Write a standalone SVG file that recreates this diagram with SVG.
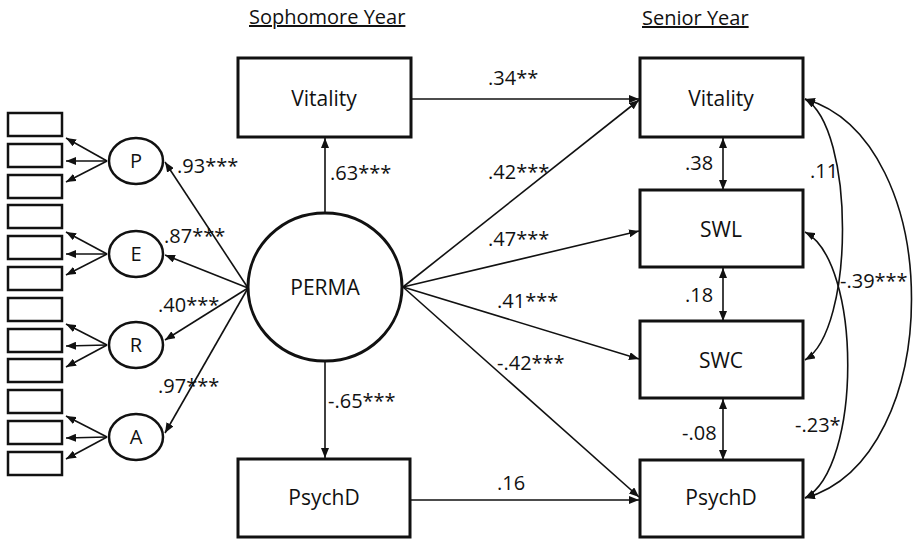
<svg xmlns="http://www.w3.org/2000/svg" width="915" height="542" viewBox="0 0 915 542">
<style>
text{font-family:"Open Sans","Liberation Sans",Arial,sans-serif;fill:#111;}
.hd{font-size:20px;text-decoration:underline;}
.nl{font-size:21px;text-anchor:middle;}
.lt{font-size:20px;text-anchor:middle;}
.lb{font-size:20px;}
.box{fill:#fff;stroke:#111;stroke-width:3;}
.ind{fill:#fff;stroke:#111;stroke-width:2.5;}
.lat{fill:#fff;stroke:#111;stroke-width:2.5;}
.c{fill:none;stroke:#111;stroke-width:1.6;}
.a{marker-end:url(#ah);}
.d{marker-start:url(#ahs);marker-end:url(#ah);}
</style>
<defs>
<marker id="ah" markerUnits="userSpaceOnUse" markerWidth="10" markerHeight="8" refX="10" refY="4" orient="auto"><path d="M0,0 L10,4 L0,8 z" fill="#111"/></marker>
<marker id="ahs" markerUnits="userSpaceOnUse" markerWidth="10" markerHeight="8" refX="10" refY="4" orient="auto-start-reverse"><path d="M0,0 L10,4 L0,8 z" fill="#111"/></marker>
</defs>
<rect width="915" height="542" fill="#fff"/>
<text class="hd" x="249" y="24">Sophomore Year</text>
<text class="hd" x="642" y="25">Senior Year</text>

<g id="connectors">
<line class="c a" x1="107" y1="161" x2="66" y2="138"/>
<line class="c a" x1="107" y1="161" x2="66" y2="161"/>
<line class="c a" x1="107" y1="161" x2="66" y2="182"/>
<line class="c a" x1="107" y1="254" x2="66" y2="232"/>
<line class="c a" x1="107" y1="254" x2="66" y2="254"/>
<line class="c a" x1="107" y1="254" x2="66" y2="275"/>
<line class="c a" x1="107" y1="345" x2="66" y2="324"/>
<line class="c a" x1="107" y1="345" x2="66" y2="346"/>
<line class="c a" x1="107" y1="345" x2="66" y2="367"/>
<line class="c a" x1="107" y1="437" x2="66" y2="416"/>
<line class="c a" x1="107" y1="437" x2="66" y2="438"/>
<line class="c a" x1="107" y1="437" x2="66" y2="459"/>
<line class="c a" x1="248" y1="288" x2="165" y2="162"/>
<line class="c a" x1="248" y1="288" x2="165" y2="255"/>
<line class="c a" x1="248" y1="288" x2="165" y2="340"/>
<line class="c a" x1="248" y1="288" x2="165" y2="433"/>
<line class="c a" x1="325" y1="212" x2="325" y2="138"/>
<line class="c a" x1="325" y1="362" x2="325" y2="458"/>
<line class="c a" x1="411" y1="99" x2="639" y2="99"/>
<line class="c a" x1="403" y1="287" x2="639" y2="100"/>
<line class="c a" x1="403" y1="287" x2="639" y2="231"/>
<line class="c a" x1="403" y1="287" x2="639" y2="359"/>
<line class="c a" x1="403" y1="287" x2="639" y2="497"/>
<line class="c a" x1="411" y1="500" x2="639" y2="500"/>
<line class="c d" x1="723" y1="190" x2="723" y2="138"/>
<line class="c d" x1="723" y1="321" x2="723" y2="268"/>
<line class="c d" x1="723" y1="460" x2="723" y2="399"/>
<path class="c d" d="M805,99 C855,128 855,330 805,360"/>
<path class="c d" d="M805,99 C947,140 947,458 805,498"/>
<path class="c d" d="M805,232 C862,262 862,468 805,498"/>
</g>

<g id="ind1"><rect class="ind" x="8" y="113" width="54" height="23"/></g>
<g id="ind2"><rect class="ind" x="8" y="144" width="54" height="23"/></g>
<g id="ind3"><rect class="ind" x="8" y="175" width="54" height="23"/></g>
<g id="ind4"><rect class="ind" x="8" y="205" width="54" height="23"/></g>
<g id="ind5"><rect class="ind" x="8" y="236" width="54" height="23"/></g>
<g id="ind6"><rect class="ind" x="8" y="267" width="54" height="23"/></g>
<g id="ind7"><rect class="ind" x="8" y="298" width="54" height="23"/></g>
<g id="ind8"><rect class="ind" x="8" y="329" width="54" height="23"/></g>
<g id="ind9"><rect class="ind" x="8" y="359" width="54" height="23"/></g>
<g id="ind10"><rect class="ind" x="8" y="390" width="54" height="23"/></g>
<g id="ind11"><rect class="ind" x="8" y="421" width="54" height="23"/></g>
<g id="ind12"><rect class="ind" x="8" y="452" width="54" height="23"/></g>

<g id="P"><ellipse class="lat" cx="136" cy="161" rx="27" ry="23"/><text class="lt" x="136" y="168">P</text></g>
<g id="E"><ellipse class="lat" cx="136" cy="254" rx="27" ry="23"/><text class="lt" x="136" y="261">E</text></g>
<g id="R"><ellipse class="lat" cx="136" cy="345" rx="27" ry="23"/><text class="lt" x="136" y="352">R</text></g>
<g id="A"><ellipse class="lat" cx="136" cy="437" rx="27" ry="23"/><text class="lt" x="136" y="444">A</text></g>

<g id="PERMA"><ellipse class="box" cx="325" cy="287" rx="77" ry="74"/><text class="nl" x="325" y="295">PERMA</text></g>

<g id="soph-vitality"><rect class="box" x="238" y="58" width="173" height="79"/><text class="nl" x="324" y="106">Vitality</text></g>
<g id="soph-psychd"><rect class="box" x="238" y="459" width="172" height="78"/><text class="nl" x="324" y="505">PsychD</text></g>

<g id="sen-vitality"><rect class="box" x="640" y="58" width="163" height="79"/><text class="nl" x="721" y="106">Vitality</text></g>
<g id="sen-swl"><rect class="box" x="640" y="190" width="163" height="77"/><text class="nl" x="721" y="237">SWL</text></g>
<g id="sen-swc"><rect class="box" x="640" y="321" width="163" height="77"/><text class="nl" x="721" y="368">SWC</text></g>
<g id="sen-psychd"><rect class="box" x="640" y="460" width="163" height="77"/><text class="nl" x="721" y="505">PsychD</text></g>

<g id="labels">
<text class="lb" x="177" y="173">.93***</text>
<text class="lb" x="164" y="243">.87***</text>
<text class="lb" x="158" y="312">.40***</text>
<text class="lb" x="158" y="393">.97***</text>
<text class="lb" x="330" y="180">.63***</text>
<text class="lb" x="328" y="408">-.65***</text>
<text class="lb" x="488" y="85">.34**</text>
<text class="lb" x="488" y="179">.42***</text>
<text class="lb" x="488" y="246">.47***</text>
<text class="lb" x="497" y="308">.41***</text>
<text class="lb" x="497" y="370">-.42***</text>
<text class="lb" x="497" y="490">.16</text>
<text class="lb" x="685" y="170">.38</text>
<text class="lb" x="685" y="302">.18</text>
<text class="lb" x="682" y="440">-.08</text>
<text class="lb" x="810" y="178">.11</text>
<text class="lb" x="840" y="288">-.39***</text>
<text class="lb" x="795" y="432">-.23*</text>
</g>
</svg>
